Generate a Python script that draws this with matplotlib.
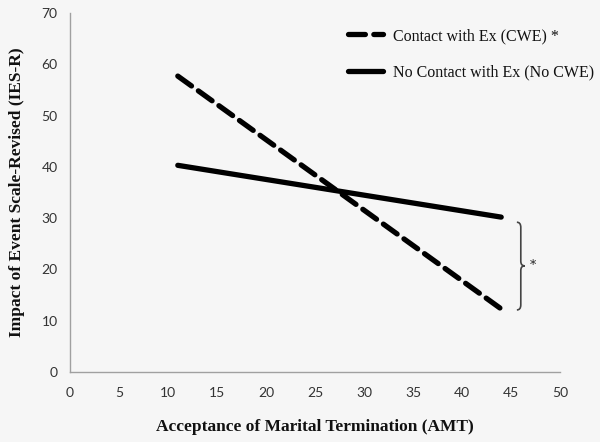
import matplotlib
matplotlib.use("Agg")
import matplotlib.pyplot as plt
from matplotlib.path import Path
from matplotlib.patches import PathPatch

# Data
amt_x = [11, 44]
cwe_y = [57.7, 12.3]
no_cwe_y = [40.3, 30.2]
series_labels = ["Contact with Ex (CWE) *", "No Contact with Ex (No CWE)"]
x_ticks = [0, 5, 10, 15, 20, 25, 30, 35, 40, 45, 50]
y_ticks = [0, 10, 20, 30, 40, 50, 60, 70]

bg = "#f6f6f6"
fig = plt.figure(figsize=(6.0, 4.42), dpi=100, facecolor=bg)
ax = fig.add_axes([70/600, 1-372/442, 490/600, 359/442], facecolor=bg)

ax.plot(amt_x, cwe_y, color="black", lw=3.8, ls=(0, (3.2, 1.6)),
        solid_capstyle="round", dash_capstyle="round", label=series_labels[0])
ax.plot(amt_x, no_cwe_y, color="black", lw=3.8, solid_capstyle="round",
        label=series_labels[1])

ax.set_xlim(0, 50)
ax.set_ylim(0, 70)
ax.set_xticks(x_ticks)
ax.set_yticks(y_ticks)
for s in ["top", "right"]:
    ax.spines[s].set_visible(False)
for s in ["left", "bottom"]:
    ax.spines[s].set_color("#a0a0a0")
    ax.spines[s].set_linewidth(1.0)
ax.tick_params(length=0, labelsize=10, colors="#333333", pad=9)
for lab in ax.get_xticklabels() + ax.get_yticklabels():
    lab.set_family("Lato")
ax.tick_params(axis="x", pad=11)

lab_font = dict(family="Liberation Serif", weight="bold", size=12.5, color="#111111")
ax.set_xlabel("Acceptance of Marital Termination (AMT)", labelpad=14, **lab_font)
ax.set_ylabel("Impact of Event Scale-Revised (IES-R)", labelpad=12, **lab_font)

leg = fig.legend(*ax.get_legend_handles_labels(), loc="upper left",
                 bbox_to_anchor=(348/600, 1-28/442), frameon=False,
                 prop={"family": "Liberation Serif", "size": 11.5},
                 borderpad=0, borderaxespad=0,
                 handlelength=2.2, handletextpad=0.6, labelspacing=1.3)
for t in leg.get_texts():
    t.set_color("#111111")

# brace annotation
x0, x1, x2 = 45.6, 46.0, 46.4
yt, ym, yb = 29.2, 20.7, 12.1
verts = [(x0, yt), (x1, yt), (x1, yt - 1.0),
         (x1, ym + 0.9),
         (x1, ym), (x2, ym),
         (x1, ym), (x1, ym - 0.9),
         (x1, yb + 1.0),
         (x1, yb), (x0, yb)]
codes = [Path.MOVETO, Path.CURVE3, Path.CURVE3,
         Path.LINETO,
         Path.CURVE3, Path.CURVE3,
         Path.CURVE3, Path.CURVE3,
         Path.LINETO,
         Path.CURVE3, Path.CURVE3]
ax.add_patch(PathPatch(Path(verts, codes), fill=False, edgecolor="#444444",
                       lw=1.2, clip_on=False))
ax.text(46.9, 20.7, "*", ha="left", va="center", fontsize=9,
        family="DejaVu Serif", color="#222222")

fig.savefig("out.png", dpi=100, facecolor=bg)
